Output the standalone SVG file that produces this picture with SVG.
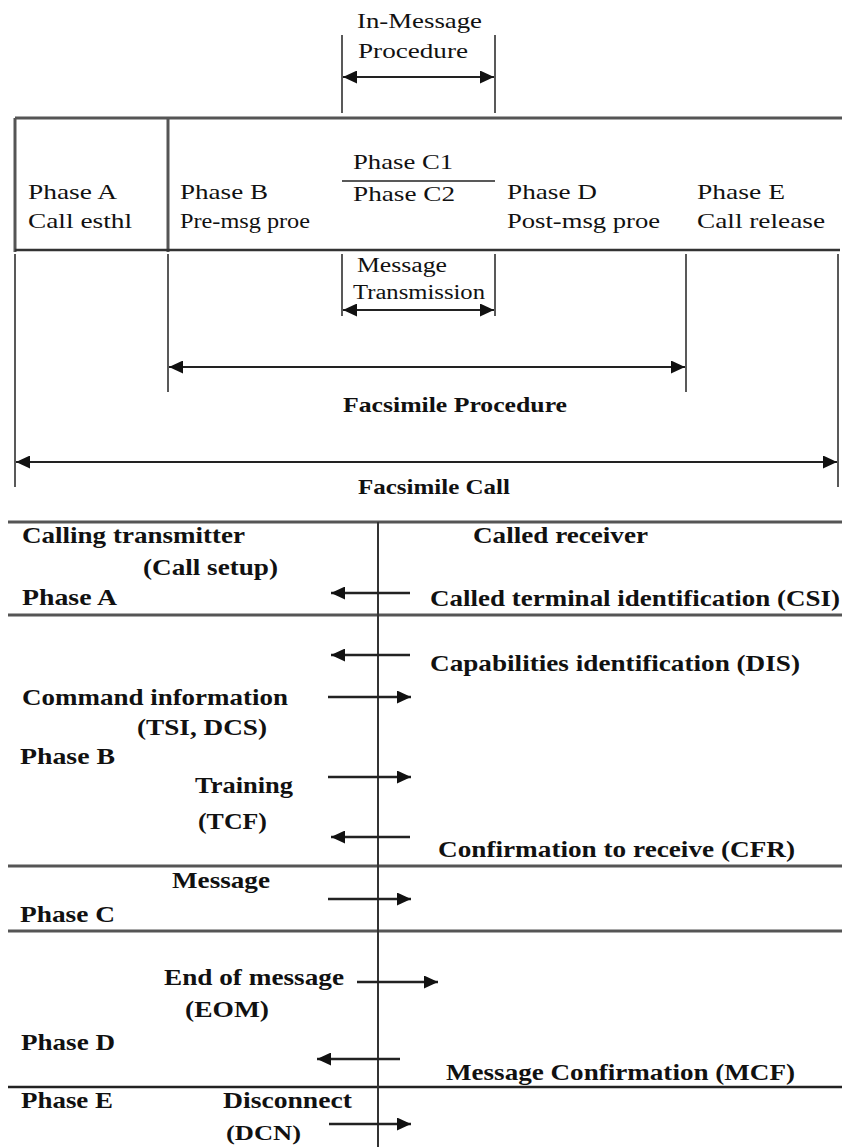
<svg xmlns="http://www.w3.org/2000/svg" width="842" height="1147" viewBox="0 0 842 1147" font-family="'Liberation Serif', 'DejaVu Serif', 'Times New Roman', serif">
<style>
text{font-family:'Liberation Serif','DejaVu Serif','Times New Roman',serif}
.t{font-size:22px;fill:#111}
.tb{font-size:23px;font-weight:bold;fill:#111}
.frame{stroke:#555;stroke-width:3;fill:none}
.thin{stroke:#222;stroke-width:1.5;fill:none}
.vline{stroke:#333;stroke-width:2;fill:none}
.dim{stroke:#222;stroke-width:2;fill:none;marker-start:url(#ah);marker-end:url(#ah)}
.one{stroke:#222;stroke-width:2.5;fill:none;marker-end:url(#ah)}
</style>
<defs>
<marker id="ah" viewBox="0 0 14 13" refX="14" refY="6.5" markerWidth="14" markerHeight="13" markerUnits="userSpaceOnUse" orient="auto-start-reverse">
<path d="M0,0 L14,6.5 L0,13 z" fill="#111"/>
</marker>
</defs>
<rect width="842" height="1147" fill="#fff"/>

<g id="phase-box">
<line class="frame" x1="15" y1="118" x2="842" y2="118"/>
<line class="frame" x1="15" y1="118" x2="15" y2="252"/>
<line class="frame" x1="168" y1="118" x2="168" y2="252"/>
<line x1="15" y1="250" x2="840" y2="250" stroke="#333" stroke-width="2.5"/>
<line class="thin" x1="342" y1="181" x2="495" y2="181"/>
</g>

<g id="node-phase-a"><text class="t" x="28" y="199" textLength="89" lengthAdjust="spacingAndGlyphs">Phase A</text><text class="t" x="28" y="228" textLength="104" lengthAdjust="spacingAndGlyphs">Call esthl</text></g>
<g id="node-phase-b"><text class="t" x="180" y="199" textLength="88" lengthAdjust="spacingAndGlyphs">Phase B</text><text class="t" x="180" y="228" textLength="130" lengthAdjust="spacingAndGlyphs">Pre-msg proe</text></g>
<g id="node-phase-c"><text class="t" x="353" y="169" textLength="100" lengthAdjust="spacingAndGlyphs">Phase C1</text><text class="t" x="353" y="201" textLength="102" lengthAdjust="spacingAndGlyphs">Phase C2</text></g>
<g id="node-phase-d"><text class="t" x="507" y="199" textLength="90" lengthAdjust="spacingAndGlyphs">Phase D</text><text class="t" x="507" y="228" textLength="153" lengthAdjust="spacingAndGlyphs">Post-msg proe</text></g>
<g id="node-phase-e"><text class="t" x="697" y="199" textLength="88" lengthAdjust="spacingAndGlyphs">Phase E</text><text class="t" x="697" y="228" textLength="128" lengthAdjust="spacingAndGlyphs">Call release</text></g>

<g id="label-in-message"><text class="t" x="357" y="28" textLength="125" lengthAdjust="spacingAndGlyphs">In-Message</text><text class="t" x="358" y="58" textLength="110" lengthAdjust="spacingAndGlyphs">Procedure</text></g>
<g id="label-msg-trans"><text class="t" x="357" y="272" textLength="90" lengthAdjust="spacingAndGlyphs" style="font-size:20px">Message</text><text class="t" x="353" y="299" textLength="132" lengthAdjust="spacingAndGlyphs" style="font-size:20px">Transmission</text></g>
<g id="label-fax-proc"><text class="tb" x="343" y="412" textLength="224" lengthAdjust="spacingAndGlyphs" style="font-size:22px">Facsimile Procedure</text></g>
<g id="label-fax-call"><text class="tb" x="358" y="494" textLength="152" lengthAdjust="spacingAndGlyphs" style="font-size:22px">Facsimile Call</text></g>

<g id="dimensions">
<line class="thin" x1="342" y1="35" x2="342" y2="113"/>
<line class="thin" x1="495" y1="35" x2="495" y2="113"/>
<line class="thin" x1="15" y1="254" x2="15" y2="487"/>
<line class="thin" x1="168" y1="254" x2="168" y2="392"/>
<line class="thin" x1="342" y1="254" x2="342" y2="316"/>
<line class="thin" x1="495" y1="254" x2="495" y2="316"/>
<line class="thin" x1="686" y1="254" x2="686" y2="392"/>
<line class="thin" x1="838" y1="254" x2="838" y2="487"/>
<line class="dim" x1="343" y1="77" x2="494" y2="77"/>
<line class="dim" x1="343" y1="310" x2="494" y2="310" stroke="#444" stroke-width="3"/>
<line class="dim" x1="169" y1="367" x2="685" y2="367"/>
<line class="dim" x1="16" y1="462" x2="837" y2="462"/>
</g>

<g id="sequence-frame">
<line class="frame" x1="8" y1="522" x2="842" y2="522"/>
<line class="frame" x1="8" y1="615" x2="842" y2="615"/>
<line class="frame" x1="8" y1="866" x2="842" y2="866"/>
<line class="frame" x1="8" y1="931" x2="842" y2="931"/>
<line x1="8" y1="1087" x2="842" y2="1087" stroke="#222" stroke-width="2.5"/>
<line class="vline" x1="378" y1="522" x2="378" y2="1147"/>
</g>

<g id="node-transmitter"><text class="tb" x="22" y="543" textLength="223" lengthAdjust="spacingAndGlyphs">Calling transmitter</text><text class="tb" x="143" y="575" textLength="135" lengthAdjust="spacingAndGlyphs">(Call setup)</text></g>
<g id="node-receiver"><text class="tb" x="473" y="543" textLength="175" lengthAdjust="spacingAndGlyphs">Called receiver</text></g>
<g id="node-seq-phase-a"><text class="tb" x="22" y="605" textLength="95" lengthAdjust="spacingAndGlyphs">Phase A</text></g>
<g id="node-csi"><text class="tb" x="430" y="606" textLength="410" lengthAdjust="spacingAndGlyphs">Called terminal identification (CSI)</text></g>
<g id="node-dis"><text class="tb" x="430" y="671" textLength="370" lengthAdjust="spacingAndGlyphs">Capabilities identification (DIS)</text></g>
<g id="node-cmd"><text class="tb" x="22" y="705" textLength="266" lengthAdjust="spacingAndGlyphs">Command information</text><text class="tb" x="137" y="735" textLength="130" lengthAdjust="spacingAndGlyphs">(TSI, DCS)</text></g>
<g id="node-seq-phase-b"><text class="tb" x="20" y="764" textLength="95" lengthAdjust="spacingAndGlyphs">Phase B</text></g>
<g id="node-tcf"><text class="tb" x="195" y="793" textLength="98" lengthAdjust="spacingAndGlyphs">Training</text><text class="tb" x="198" y="829" textLength="69" lengthAdjust="spacingAndGlyphs">(TCF)</text></g>
<g id="node-cfr"><text class="tb" x="438" y="857" textLength="357" lengthAdjust="spacingAndGlyphs">Confirmation to receive (CFR)</text></g>
<g id="node-message"><text class="tb" x="172" y="888" textLength="98" lengthAdjust="spacingAndGlyphs">Message</text></g>
<g id="node-seq-phase-c"><text class="tb" x="20" y="922" textLength="95" lengthAdjust="spacingAndGlyphs">Phase C</text></g>
<g id="node-eom"><text class="tb" x="164" y="985" textLength="180" lengthAdjust="spacingAndGlyphs">End of message</text><text class="tb" x="185" y="1017" textLength="84" lengthAdjust="spacingAndGlyphs">(EOM)</text></g>
<g id="node-seq-phase-d"><text class="tb" x="21" y="1050" textLength="94" lengthAdjust="spacingAndGlyphs">Phase D</text></g>
<g id="node-mcf"><text class="tb" x="446" y="1080" textLength="349" lengthAdjust="spacingAndGlyphs">Message Confirmation (MCF)</text></g>
<g id="node-seq-phase-e"><text class="tb" x="21" y="1108" textLength="92" lengthAdjust="spacingAndGlyphs">Phase E</text></g>
<g id="node-dcn"><text class="tb" x="223" y="1108" textLength="129" lengthAdjust="spacingAndGlyphs">Disconnect</text><text class="tb" x="226" y="1140" textLength="75" lengthAdjust="spacingAndGlyphs" style="font-size:22px">(DCN)</text></g>

<g id="connectors">
<line class="one" x1="410" y1="593" x2="331" y2="593"/>
<line class="one" x1="410" y1="655" x2="331" y2="655"/>
<line class="one" x1="328" y1="697" x2="411" y2="697"/>
<line class="one" x1="328" y1="777" x2="411" y2="777"/>
<line class="one" x1="410" y1="837" x2="331" y2="837"/>
<line class="one" x1="328" y1="899" x2="411" y2="899"/>
<line class="one" x1="357" y1="982" x2="438" y2="982"/>
<line class="one" x1="400" y1="1059" x2="317" y2="1059"/>
<line class="one" x1="329" y1="1124" x2="411" y2="1124" stroke="#999" stroke-width="1.5"/>
</g>
</svg>
